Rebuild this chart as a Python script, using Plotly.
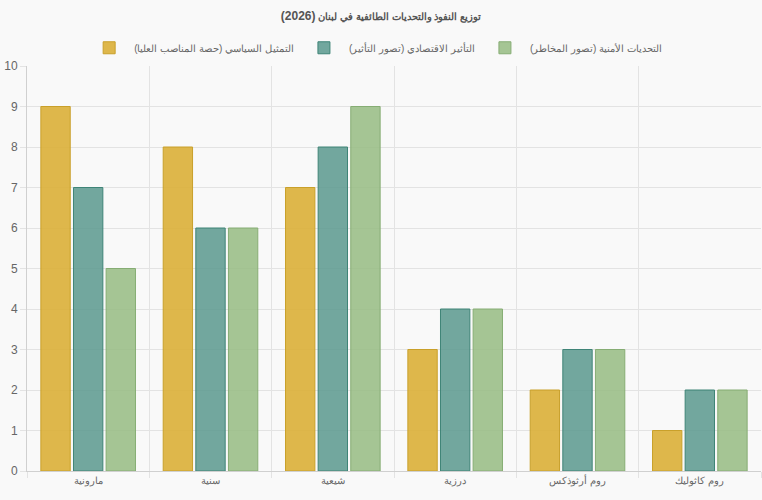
import plotly.graph_objects as go

categories = ["مارونية", "سنية", "شيعية", "درزية", "روم أرثوذكس", "روم كاثوليك"]
political = [9, 8, 7, 3, 2, 1]
economic = [7, 6, 8, 4, 3, 2]
security = [5, 6, 9, 4, 3, 2]

series_names = [
    "التمثيل السياسي (حصة المناصب العليا)",
    "التأثير الاقتصادي (تصور التأثير)",
    "التحديات الأمنية (تصور المخاطر)",
]
fills = ["rgba(218,175,55,0.9)", "rgba(95,155,145,0.88)", "rgba(150,188,130,0.85)"]
borders = ["#c9a02a", "#3f8477", "#86ad74"]

title_ar = "توزيع النفوذ والتحديات الطائفية في لبنان"
title_year = "(2026)"

fig = go.Figure()
for name, vals, fc, bc in zip(series_names, [political, economic, security], fills, borders):
    fig.add_trace(go.Bar(
        x=categories, y=vals, name=name,
        marker=dict(color=fc, line=dict(color=bc, width=1)),
    ))

font_family = "Liberation Sans, Arial, sans-serif"
fig.update_layout(
    width=762, height=500,
    margin=dict(l=27, r=1, t=66, b=29),
    paper_bgcolor="#f9f9f9", plot_bgcolor="#f9f9f9",
    font=dict(family=font_family, size=12, color="#666"),
    title=dict(text="<b>" + title_ar + " <span style='font-size:12px'>" + title_year + "</span></b>",
               x=0.5, xanchor="center", y=0.968, yanchor="middle",
               font=dict(size=10, color="#555", family=font_family)),
    barmode="group", bargap=0.2, bargroupgap=0.1,
    legend=dict(orientation="h", x=0.475, xanchor="center", y=1.045, yanchor="middle",
                font=dict(size=10, color="#666"), bgcolor="rgba(0,0,0,0)",
                itemwidth=40, traceorder="normal"),
    showlegend=True,
)
fig.update_xaxes(
    type="category", tickson="boundaries", showgrid=True, gridcolor="#e3e3e3", gridwidth=1,
    ticks="outside", ticklen=6, tickcolor="#e3e3e3",
    showline=True, linecolor="#d0d0d0", linewidth=1,
    tickfont=dict(size=10, color="#666"),
)
fig.update_yaxes(
    range=[0, 10], dtick=1, showgrid=True, gridcolor="#e3e3e3", gridwidth=1,
    ticks="outside", ticklen=6, tickcolor="#e3e3e3",
    showline=True, linecolor="#d0d0d0", zeroline=False,
    tickfont=dict(size=12, color="#666"),
)
fig.write_html("out.html")
